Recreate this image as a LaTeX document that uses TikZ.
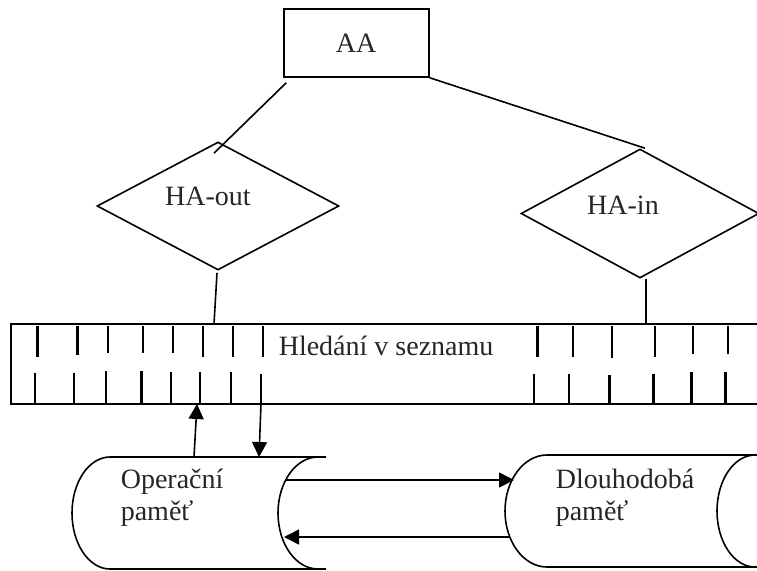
\documentclass[tikz,border=0pt]{standalone}
\usepackage{fontspec}
\setmainfont{Liberation Serif}
\usetikzlibrary{shapes.geometric,arrows.meta,calc}
\begin{document}
\begin{tikzpicture}[x=1pt,y=-1pt,
  line width=1.6pt,
  txt/.style={inner sep=0pt,font=\fontsize{28}{32}\selectfont,text=black!85},
  boxst/.style={draw,rectangle,minimum width=145pt,minimum height=68pt,inner sep=0pt},
  diam/.style={draw,diamond,inner sep=0pt},
  tick/.style={line width=#1},
  arr/.style={-{Triangle[length=15pt,width=15pt]}}]
\useasboundingbox (0,0) rectangle (757,570);
% top box and diamonds
\node[boxst] (AA) at (356.5,43) {};
\node[txt,anchor=base] (AAt) at (356,52) {AA};
\node[diam,minimum width=242pt,minimum height=128pt] (HAout) at (218,206) {};
\node[txt,anchor=base] (HAoutt) at (208,205) {HA-out};
\node[diam,minimum width=238pt,minimum height=129pt] (HAin) at (640,213.5) {};
\node[txt,anchor=base] (HAint) at (623,214) {HA-in};
% connectors AA - diamonds
\draw ($(AA.south west)+(3,5)$) -- ($(HAout.north)+(-4,12)$);
\draw (AA.south east) -- ($(HAin.north)+(5,0)$);
% search bar
\coordinate (barTL) at (11,324);
\coordinate (barBL) at (11,404);
\coordinate (barTR) at (757,324);
\coordinate (barBR) at (757,404);
\draw (barTR) -- (barTL) -- (barBL) -- (barBR);
\node[txt,anchor=base west] (search) at (278,355) {Hledání v seznamu};
\draw ($(HAout.south)+(-1,2)$) -- (214,324);
\draw ($(HAin.south)+(6,0)$) -- (646,324);
% ticks upper row
\foreach \x/\w/\b in {37/3/357,77/3/355,108/2.2/353,143/2.2/353,173/2.2/353,203/2.2/357,233/2.2/357,263/2.2/357,
  537/3/357,573/2.2/357,612/2.2/358,655/2.5/357,693/2.5/354,728/2.5/354}
  \draw[tick=\w pt] (\x,326) -- (\x,\b);
% ticks lower row
\foreach \x/\w/\t in {35/2.2/373,74/2.2/373,106/2.6/371,141/3/371,171/2.6/372,200/2.6/372,231/2.6/372,261/2.6/374,
  534/2.2/374,569/2.2/374,609/3/375,653/3/374,691/3/372,725/3/372}
  \draw[tick=\w pt] (\x,\t) -- (\x,404);
% operational memory cylinder
\draw (326,457) -- (110,457) arc[start angle=90,end angle=270,x radius=38pt,y radius=56pt] -- (326,569);
\draw (318,457) arc[start angle=90,end angle=270,x radius=40pt,y radius=56pt];
\node[txt,anchor=base west] (op1) at (120,488) {Operační};
\node[txt,anchor=base west] (op2) at (120,520) {paměť};
% long-term memory cylinder
\draw (757,455) -- (547,455) arc[start angle=90,end angle=270,x radius=42pt,y radius=56pt] -- (757,567);
\draw (755,455) arc[start angle=90,end angle=270,x radius=38pt,y radius=56pt];
\node[txt,anchor=base west] (dl1) at (555,488) {Dlouhodobá};
\node[txt,anchor=base west] (dl2) at (555,520) {paměť};
% arrow endpoints
\coordinate (opUp) at (194,457);
\coordinate (barUp) at (197,404);
\coordinate (barDn) at (261,404);
\coordinate (opDn) at (259,457);
\coordinate (opR1) at (286,480);
\coordinate (dlL1) at (514,480);
\coordinate (dlL2) at (509,537);
\coordinate (opR2) at (284,537);
\draw[arr] (opUp) -- (barUp);
\draw[arr] (barDn) -- (opDn);
\draw[arr] (opR1) -- (dlL1);
\draw[arr] (dlL2) -- (opR2);
\end{tikzpicture}
\end{document}
